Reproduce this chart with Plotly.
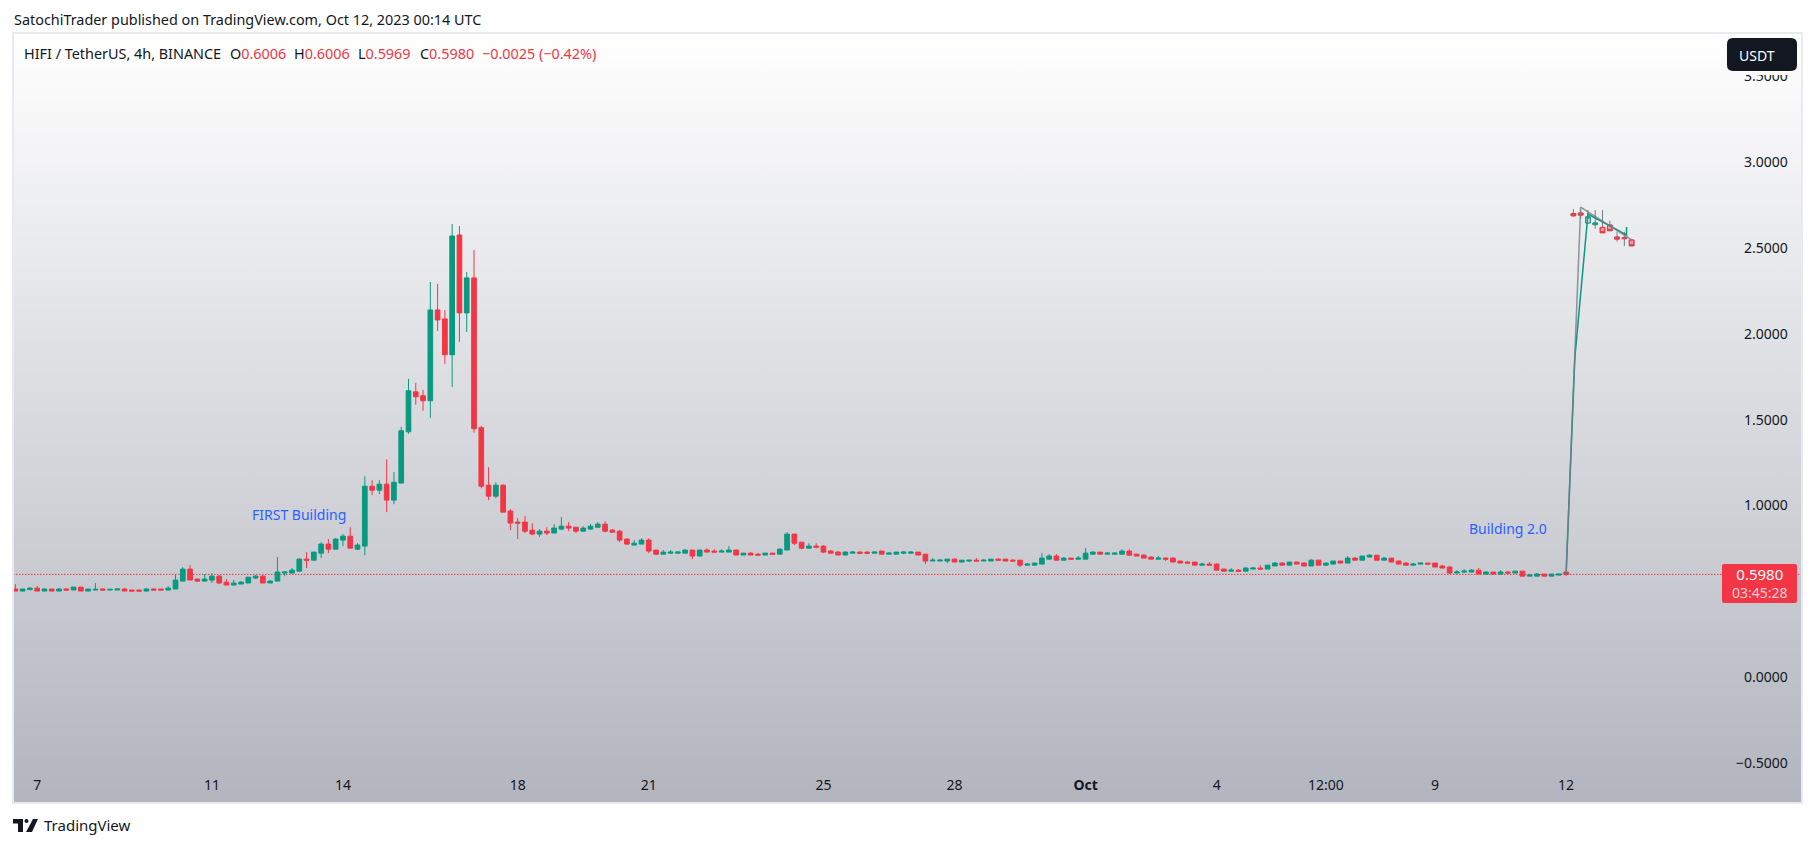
import base64
import pandas as pd
import plotly.graph_objects as go

UP = "#089981"
DOWN = "#F23645"
INK = "#131722"
BLUE = "#2962FF"
FONT = "'Noto Sans', sans-serif"

W, H = 1815, 847
LEFT, RIGHT, TOP, BOTTOM = 13, 1802, 33, 803

# 4h candles, Sep 6 12:00 -> Oct 12 00:00
opens = [
    .513, .501, .509, .518, .501, .513, .501, .513, .507, .524, .501, .507, .513, .507, .507,
    .513, .507, .507, .501, .513, .513, .507, .513, .559, .629, .571, .559, .565, .588, .553,
    .536, .542, .548, .577, .588, .548, .559, .606, .606, .617, .687, .681, .722, .775, .745,
    .798, .821, .745, .763, 1.112, 1.089, 1.124, 1.031, 1.130, 1.429, 1.662, 1.639, 1.610, 2.139, 2.087,
    1.878, 2.576, 2.122, 2.326, 1.453, 1.118, 1.054, 1.118, .967, .903, .903, .856, .833,
    .850, .839, .862, .879, .873, .850, .862, .873, .891, .856,
    .850, .804, .769, .775, .798, .740, .716, .722, .722, .722,
    .740, .705, .740, .734, .728, .728, .740, .711, .722, .716,
    .711, .722, .716, .740, .833, .786, .751, .763, .763, .734,
    .728, .711, .722, .728, .728, .722, .734, .716, .716, .722,
    .722, .728, .716,
    .676, .676, .676, .687, .670, .676, .681, .676, .676, .687,
    .687, .681, .681, .652, .652, .658, .687, .705, .681, .693,
    .687, .687, .716, .728, .716, .716, .716, .734, .716, .710,
    .699, .687, .693, .693, .676, .670, .670, .652, .658, .658,
    .629, .617, .623, .617,
    .629, .635, .629, .647, .664, .652, .670, .664, .647, .681,
    .652, .658, .676, .664, .693, .681, .699, .710, .681, .693,
    .676, .664, .652, .658, .664, .664, .647, .641, .606, .612,
    .612, .623, .600, .612, .600, .612, .606, .617, .588, .588,
    .600, .588, .594, .612,
]
highs = [
    .542, .513, .524, .530, .518, .513, .518, .518, .524, .524, .513, .548, .518, .511, .517,
    .518, .507, .507, .518, .518, .513, .530, .600, .641, .652, .571, .600, .606, .594, .571,
    .565, .559, .582, .594, .594, .565, .699, .617, .635, .693, .728, .728, .786, .804, .809,
    .833, .873, .780, 1.170, 1.147, 1.147, 1.269, 1.194, 1.459, 1.738, 1.715, 1.674, 2.302, 2.291, 2.139,
    2.640, 2.628, 2.361, 2.489, 1.464, 1.223, 1.135, 1.124, .978, .926, .938, .897, .862,
    .873, .891, .932, .903, .873, .879, .891, .903, .908, .862,
    .856, .809, .798, .809, .809, .740, .740, .740, .734, .745,
    .740, .740, .751, .745, .745, .763, .740, .722, .728, .722,
    .722, .722, .751, .844, .833, .786, .780, .780, .769, .740,
    .734, .734, .734, .734, .734, .734, .734, .728, .728, .734,
    .734, .728, .716,
    .693, .687, .687, .693, .681, .681, .693, .687, .687, .693,
    .687, .687, .681, .664, .664, .722, .716, .716, .699, .693,
    .705, .751, .734, .728, .728, .728, .745, .745, .716, .716,
    .705, .705, .699, .699, .676, .676, .670, .664, .670, .664,
    .629, .635, .629, .641,
    .641, .652, .652, .670, .670, .670, .670, .670, .687, .681,
    .664, .676, .676, .705, .699, .705, .716, .710, .699, .693,
    .676, .670, .664, .664, .664, .664, .652, .647, .623, .629,
    .629, .635, .617, .612, .623, .617, .617, .617, .600, .606,
    .600, .600, .600, .612,
]
lows = [
    .501, .501, .509, .501, .501, .501, .501, .507, .507, .501, .501, .507, .507, .507, .507,
    .501, .501, .501, .501, .507, .507, .507, .513, .559, .565, .553, .559, .548, .542, .536,
    .536, .542, .548, .571, .548, .548, .559, .588, .606, .617, .635, .681, .693, .722, .745,
    .763, .751, .740, .711, 1.060, 1.066, .961, 1.007, 1.130, 1.418, 1.587, 1.552, 1.511, 2.017, 1.825,
    1.691, 1.953, 2.011, 1.424, 1.100, 1.031, 1.042, .961, .856, .804, .839, .827, .817,
    .827, .839, .856, .850, .839, .850, .856, .868, .844, .844,
    .786, .769, .769, .775, .722, .711, .716, .722, .722, .722,
    .687, .705, .728, .728, .728, .728, .711, .711, .711, .705,
    .711, .716, .716, .740, .769, .745, .751, .751, .722, .722,
    .711, .711, .722, .722, .716, .722, .716, .716, .716, .716,
    .722, .711, .658,
    .676, .676, .664, .670, .670, .670, .676, .676, .676, .681,
    .676, .676, .641, .652, .652, .658, .687, .681, .681, .687,
    .687, .687, .716, .716, .716, .716, .716, .710, .705, .693,
    .687, .687, .676, .670, .664, .664, .652, .652, .652, .623,
    .617, .617, .617, .617,
    .629, .629, .629, .647, .647, .652, .658, .647, .647, .652,
    .652, .658, .664, .664, .681, .681, .699, .681, .681, .670,
    .658, .652, .652, .658, .658, .641, .635, .600, .606, .606,
    .612, .600, .600, .600, .600, .606, .606, .588, .588, .588,
    .588, .588, .594, .588,
]
closes = [
    .501, .513, .518, .501, .513, .501, .513, .507, .524, .501, .513, .511, .507, .511, .513,
    .501, .501, .501, .513, .507, .507, .518, .565, .629, .565, .559, .571, .588, .548, .536,
    .548, .553, .582, .588, .548, .559, .612, .612, .623, .687, .681, .728, .775, .745, .804,
    .821, .751, .769, 1.112, 1.089, 1.124, 1.031, 1.135, 1.435, 1.668, 1.633, 1.610, 2.139, 2.081, 1.878,
    2.570, 2.122, 2.326, 1.447, 1.112, 1.054, 1.118, .961, .897, .897, .850, .833, .850,
    .839, .868, .879, .868, .850, .868, .879, .891, .850, .844,
    .798, .775, .780, .798, .734, .716, .728, .728, .728, .740,
    .705, .740, .728, .728, .734, .740, .711, .722, .711, .711,
    .722, .716, .745, .833, .780, .751, .763, .757, .728, .722,
    .711, .728, .728, .722, .722, .728, .716, .722, .728, .728,
    .728, .711, .676,
    .681, .681, .687, .670, .681, .681, .676, .681, .687, .681,
    .676, .676, .652, .658, .664, .693, .705, .681, .693, .687,
    .693, .722, .728, .716, .722, .722, .734, .710, .705, .693,
    .687, .693, .687, .670, .664, .664, .652, .658, .652, .623,
    .617, .623, .617, .635,
    .635, .629, .652, .664, .652, .670, .658, .647, .681, .652,
    .664, .676, .664, .693, .681, .705, .710, .681, .693, .670,
    .658, .652, .658, .664, .658, .641, .635, .606, .612, .617,
    .623, .600, .612, .600, .612, .606, .617, .588, .594, .600,
    .588, .600, .600, .598,
]

# the pasted pattern after the last real bar
pat_open = [2.701, 2.704, 2.646, 2.636, 2.620, 2.634, 2.564, 2.560, 2.547]
pat_high = [2.727, 2.720, 2.721, 2.721, 2.721, 2.660, 2.595, 2.595, 2.547]
pat_low = [2.682, 2.670, 2.646, 2.612, 2.589, 2.601, 2.537, 2.512, 2.513]
pat_close = [2.688, 2.692, 2.681, 2.646, 2.589, 2.601, 2.552, 2.555, 2.513]

gray_x = ["2023-10-12 00:00", "2023-10-12 04:48", "2023-10-12 08:00", "2023-10-13 12:00"]
gray_y = [0.60, 1.86, 2.739, 2.547]
teal_x = ["2023-10-12 00:00", "2023-10-12 04:48", "2023-10-12 12:00", "2023-10-13 09:12", "2023-10-13 09:12"]
teal_y = [0.60, 1.86, 2.698, 2.576, 2.622]

# 0.5000 sits behind the price tag in the reference, so it is left out
price_ticks = [-0.5, 0, 1, 1.5, 2, 2.5, 3, 3.5]
date_ticks = ["2023-09-07 00:00", "2023-09-11 00:00", "2023-09-14 00:00", "2023-09-18 00:00",
              "2023-09-21 00:00", "2023-09-25 00:00", "2023-09-28 00:00", "2023-10-01 00:00",
              "2023-10-04 00:00", "2023-10-06 12:00", "2023-10-09 00:00", "2023-10-12 00:00"]
date_labels = ["7", "11", "14", "18", "21", "25", "28", "<b>Oct</b>", "4", "12:00", "9", "12"]
last_price = 0.598

dates = pd.date_range("2023-09-06 12:00", periods=len(opens), freq="4h")
pat_dates = pd.date_range("2023-10-12 04:00", periods=len(pat_open), freq="4h")


def px(x):
    return (x - LEFT) / (RIGHT - LEFT)


def py(y):
    return 1 - (y - TOP) / (BOTTOM - TOP)


def label(fig, x, y, text, size=14, color=INK, anchor="left"):
    fig.add_annotation(x=px(x), y=py(y), xref="paper", yref="paper", text=text, showarrow=False,
                       xanchor=anchor, yanchor="middle", borderpad=0,
                       font=dict(family=FONT, size=size, color=color))


def round_rect(x0, y0, x1, y1, r):
    pts = [("M", x0 + r, y0), ("L", x1 - r, y0), ("Q", x1, y0, x1, y0 + r), ("L", x1, y1 - r),
           ("Q", x1, y1, x1 - r, y1), ("L", x0 + r, y1), ("Q", x0, y1, x0, y1 - r),
           ("L", x0, y0 + r), ("Q", x0, y0, x0 + r, y0)]
    out = ""
    for p in pts:
        nums = p[1:]
        coords = []
        for i in range(0, len(nums), 2):
            coords.append(f"{px(nums[i]):.5f},{py(nums[i + 1]):.5f}")
        out += p[0] + " ".join(coords) + " "
    return out + "Z"


def poly(points):
    return "M" + " L".join(f"{px(x):.5f},{py(y):.5f}" for x, y in points) + " Z"


def paper_shape(path, color):
    return dict(type="path", xref="paper", yref="paper", path=path, fillcolor=color, line_width=0, layer="above")


fig = go.Figure()
fig.add_trace(go.Scatter(x=teal_x, y=teal_y, mode="lines", line=dict(color=UP, width=1.5), hoverinfo="skip"))
fig.add_trace(go.Scatter(x=gray_x, y=gray_y, mode="lines", line=dict(color="rgba(120,123,134,0.8)", width=1.5), hoverinfo="skip"))
fig.add_trace(go.Candlestick(x=dates, open=opens, high=highs, low=lows, close=closes, whiskerwidth=0,
                             increasing=dict(line=dict(color=UP, width=1), fillcolor=UP),
                             decreasing=dict(line=dict(color=DOWN, width=1), fillcolor=DOWN)))
# pattern bars: gray wicks underneath, coloured bodies on top
fig.add_trace(go.Candlestick(x=pat_dates, open=pat_open, high=pat_high, low=pat_low, close=pat_close, whiskerwidth=0,
                             increasing=dict(line=dict(color="#787B86", width=1), fillcolor="rgba(0,0,0,0)"),
                             decreasing=dict(line=dict(color="#787B86", width=1), fillcolor="rgba(0,0,0,0)")))
fig.add_trace(go.Candlestick(x=pat_dates, open=pat_open, close=pat_close, whiskerwidth=0,
                             high=[max(o, c) for o, c in zip(pat_open, pat_close)],
                             low=[min(o, c) for o, c in zip(pat_open, pat_close)],
                             increasing=dict(line=dict(color=UP, width=1), fillcolor="rgba(200,230,225,0.9)"),
                             decreasing=dict(line=dict(color=DOWN, width=1), fillcolor="rgba(242,54,69,0.45)")))

gradient = ('<svg xmlns="http://www.w3.org/2000/svg" width="10" height="10" preserveAspectRatio="none">'
            '<defs><linearGradient id="g" x1="0" y1="0" x2="0" y2="1"><stop offset="0" stop-color="#FFFFFF"/>'
            '<stop offset="1" stop-color="#B2B5BE"/></linearGradient></defs>'
            '<rect width="10" height="10" fill="url(#g)"/></svg>')
bg_uri = "data:image/svg+xml;base64," + base64.b64encode(gradient.encode()).decode()

fig.update_layout(
    width=W, height=H, showlegend=False, paper_bgcolor="white", plot_bgcolor="rgba(0,0,0,0)",
    margin=dict(l=LEFT, r=W - RIGHT, t=TOP, b=H - BOTTOM),
    boxgap=0.2, boxgroupgap=0.2, font=dict(family=FONT, size=14, color=INK),
    images=[dict(source=bg_uri, xref="paper", yref="paper", x=0, y=1, sizex=1, sizey=1,
                 sizing="stretch", xanchor="left", yanchor="top", layer="below")],
)
fig.update_xaxes(type="date", range=["2023-09-06 10:43", "2023-10-17 09:36"], rangeslider_visible=False,
                 showgrid=False, zeroline=False, showline=False, tickmode="array",
                 tickvals=date_ticks, ticktext=date_labels, ticklabelposition="inside",
                 ticks="inside", ticklen=10, tickcolor="rgba(0,0,0,0)", tickfont=dict(size=14, color=INK))
fig.update_yaxes(side="right", range=[-0.734, 3.753], showgrid=False, zeroline=False, showline=False,
                 tickmode="array", tickvals=price_ticks, tickformat=".4f", ticklabelposition="inside",
                 ticks="inside", ticklen=14, tickcolor="rgba(0,0,0,0)", tickfont=dict(size=14, color=INK))

# last price line, frame and the TradingView chrome
fig.add_shape(type="line", xref="paper", x0=0, x1=1, y0=last_price, y1=last_price,
              line=dict(color=DOWN, width=1, dash="1.5px,1.5px"), layer="between")
fig.add_shape(type="rect", xref="paper", yref="paper", x0=0, x1=1, y0=0, y1=1,
              line=dict(color="#E9E9F2", width=2), layer="above")
fig.add_shape(paper_shape(poly([(1725, 36), (1799, 36), (1799, 75), (1725, 75)]), "#FBFBFC"))
fig.add_shape(paper_shape(round_rect(1727, 38, 1797, 71, 6), INK))
fig.add_shape(paper_shape(round_rect(1722, 564, 1797, 603, 2), DOWN))
fig.add_shape(paper_shape(poly([(13, 819), (23, 819), (23, 832), (18, 832), (18, 823.5), (13, 823.5)]), INK))
fig.add_shape(paper_shape(poly([(33, 819), (38, 819), (32, 832), (26, 832)]), INK))
fig.add_shape(paper_shape(round_rect(24.5, 819, 28.5, 823, 2), INK))

label(fig, 13, 19, "SatochiTrader published on TradingView.com, Oct 12, 2023 00:14 UTC", size=14.4)
label(fig, 23, 53, "HIFI / TetherUS, 4h, BINANCE", size=14.4)
ohlc_x = [229, 293, 357, 419]
ohlc_names = ["O", "H", "L", "C"]
ohlc_vals = ["0.6006", "0.6006", "0.5969", "0.5980"]
for x, n, v in zip(ohlc_x, ohlc_names, ohlc_vals):
    label(fig, x, 53, f"{n}<span style='color:{DOWN}'>{v}</span>", size=14.4)
label(fig, 481, 53, "\u22120.0025 (\u22120.42%)", size=14.4, color=DOWN)
label(fig, 1738, 55, "USDT", color="white")
label(fig, 1759.5, 583, "<span style='font-size:15px'>0.5980</span><br><span style='color:#FBD0D4'>03:45:28</span>",
      color="white", anchor="center")
label(fig, 251, 514, "FIRST Building", color=BLUE)
label(fig, 1468, 528, "Building 2.0", color=BLUE)
label(fig, 43, 825, "TradingView", size=15)

fig.write_html("out.html", config=dict(displayModeBar=False),
               post_script="document.body.style.margin='0';document.body.style.overflow='hidden';")
